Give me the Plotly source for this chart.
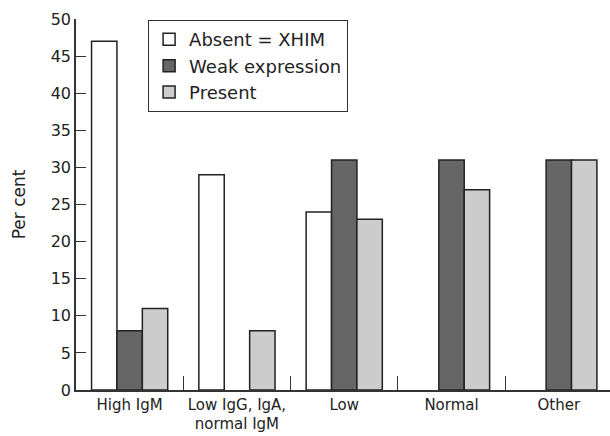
import plotly.graph_objects as go

categories = ["High IgM", "Low IgG, IgA,<br>normal IgM", "Low", "Normal", "Other"]
absent = [47, 29, 24, None, None]
weak = [8, None, 31, 31, 31]
present = [11, 8, 23, 27, 31]
series_names = ["Absent = XHIM", "Weak expression", "Present"]
series_colors = ["#ffffff", "#666666", "#cccccc"]

font_family = "'DejaVu Sans', sans-serif"

fig = go.Figure()
for name, vals, col in zip(series_names, [absent, weak, present], series_colors):
    fig.add_trace(go.Bar(
        x=categories, y=vals, name=name,
        marker=dict(color=col, line=dict(color="#222222", width=1.5)),
    ))

fig.update_layout(
    width=610, height=436,
    margin=dict(l=76, r=0, t=19, b=46),
    paper_bgcolor="white", plot_bgcolor="white",
    barmode="group", bargap=0.29, bargroupgap=0,
    font=dict(family=font_family, size=16, color="#222222"),
    legend=dict(
        x=0.135, y=0.997, xanchor="left", yanchor="top",
        bordercolor="#333333", borderwidth=1, bgcolor="white",
        font=dict(size=18), tracegroupgap=0,
    ),
    showlegend=True,
)
fig.update_xaxes(
    type="category", range=[-0.5, 4.477], automargin=False,
    showline=True, linecolor="#333333", linewidth=1.5,
    ticks="inside", tickson="boundaries", ticklen=14, tickcolor="#333333", tickwidth=1,
    showgrid=False, zeroline=False, tickangle=0,
    tickfont=dict(size=15),
)
fig.update_yaxes(
    range=[0, 50], dtick=5, automargin=False,
    showline=True, linecolor="#333333", linewidth=1.5,
    ticks="inside", ticklen=10, tickcolor="#333333", tickwidth=1,
    showgrid=False, zeroline=False,
    tickfont=dict(size=16),
    title=dict(text="Per cent", font=dict(size=17), standoff=21),
)

fig.write_html("out.html", config={"displayModeBar": False},
               post_script="document.body.style.margin='0px';")
